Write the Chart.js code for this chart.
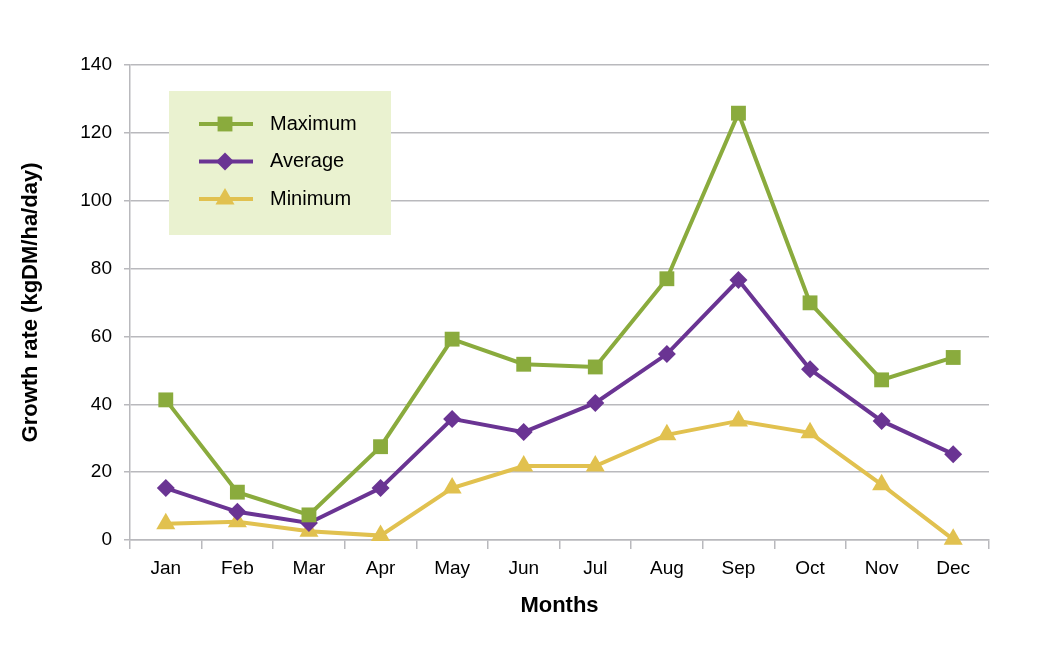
<!DOCTYPE html>
<html>
<head>
<meta charset="utf-8">
<script src="https://cdn.jsdelivr.net/npm/chart.js@4/dist/chart.umd.min.js"></script>
<style>
  body { margin: 0; background: #fff; }
  #wrap { width: 1040px; height: 655px; }
</style>
</head>
<body>
<div id="wrap"><canvas id="growth-chart" width="1040" height="655"></canvas></div>
<script>
// Chart data
const months = ['Jan', 'Feb', 'Mar', 'Apr', 'May', 'Jun', 'Jul', 'Aug', 'Sep', 'Oct', 'Nov', 'Dec'];
const maximumValues = [41.3, 14.1, 7.4, 27.5, 59.2, 51.8, 51.0, 77.0, 125.8, 69.9, 47.2, 53.8];
const averageValues = [15.3, 8.3, 5.0, 15.3, 35.7, 31.8, 40.4, 54.8, 76.6, 50.3, 35.1, 25.3];
const minimumValues = [4.8, 5.4, 2.6, 1.3, 15.3, 21.8, 21.8, 31.0, 35.1, 31.6, 16.3, 0.2];
const yTicks = [0, 20, 40, 60, 80, 100, 120, 140];

const GREEN = '#8aab3d';
const PURPLE = '#6a3493';
const YELLOW = '#e1c14f';
const GRID = '#b9b9bd';
const FONT = '"Liberation Sans", Arial, sans-serif';

// Legend box drawn inside the chart area (top left)
const insideLegend = {
    id: 'insideLegend',
    afterDatasetsDraw(chart) {
        const ctx = chart.ctx;
        const area = chart.chartArea;
        const x0 = area.left + 39;
        const y0 = area.top + 26;
        ctx.save();
        ctx.fillStyle = '#eaf2d0';
        ctx.fillRect(x0, y0, 222, 144);
        chart.data.datasets.forEach((ds, i) => {
            const y = y0 + 33 + i * 37.5;
            ctx.strokeStyle = ds.borderColor;
            ctx.lineWidth = ds.borderWidth;
            ctx.beginPath();
            ctx.moveTo(x0 + 30, y);
            ctx.lineTo(x0 + 84, y);
            ctx.stroke();
            ctx.fillStyle = ds.pointBackgroundColor;
            Chart.helpers.drawPoint(ctx, {
                pointStyle: ds.pointStyle,
                radius: ds.pointRadius,
                rotation: 0,
                borderWidth: 0
            }, x0 + 56, y);
            ctx.fillStyle = '#000';
            ctx.font = '20px ' + FONT;
            ctx.textBaseline = 'middle';
            ctx.textAlign = 'left';
            ctx.fillText(ds.label, x0 + 101, y);
        });
        ctx.restore();
    }
};

function lineSet(label, data, color, style, radius) {
    return {
        label: label,
        data: data,
        borderColor: color,
        backgroundColor: color,
        pointBackgroundColor: color,
        pointBorderColor: color,
        pointBorderWidth: 0,
        pointStyle: style,
        pointRadius: radius,
        borderWidth: 4,
        tension: 0,
        clip: false
    };
}

const growthChart = new Chart(document.getElementById('growth-chart').getContext('2d'), {
    type: 'line',
    data: {
        labels: months,
        datasets: [
            lineSet('Maximum', maximumValues, GREEN, 'rect', 10.5),
            lineSet('Average', averageValues, PURPLE, 'rectRot', 9),
            lineSet('Minimum', minimumValues, YELLOW, 'triangle', 11)
        ]
    },
    options: {
        responsive: false,
        animation: false,
        devicePixelRatio: 1,
        layout: { padding: { top: 65, right: 51, bottom: 36, left: 18 } },
        plugins: {
            legend: { display: false },
            tooltip: { enabled: false }
        },
        scales: {
            x: {
                offset: true,
                grid: {
                    offset: true,
                    drawOnChartArea: false,
                    color: GRID,
                    lineWidth: 1.5,
                    tickLength: 9
                },
                border: { color: GRID, width: 1.5 },
                ticks: {
                    color: '#000',
                    padding: 8,
                    font: { family: FONT, size: 19 }
                },
                title: {
                    display: true,
                    text: 'Months',
                    color: '#000',
                    padding: { top: 14, bottom: 0 },
                    font: { family: FONT, size: 22, weight: 'bold' }
                },
                afterFit(scale) { scale.height = 655 - 540 - 36; }
            },
            y: {
                min: 0,
                max: 140,
                afterBuildTicks(scale) { scale.ticks = yTicks.map(v => ({ value: v })); },
                grid: {
                    color: GRID,
                    lineWidth: 1.5,
                    tickLength: 6
                },
                border: { color: GRID, width: 1.5 },
                ticks: {
                    color: '#000',
                    padding: 12,
                    font: { family: FONT, size: 19 }
                },
                title: {
                    display: true,
                    text: 'Growth rate (kgDM/ha/day)',
                    color: '#000',
                    padding: { top: 0, bottom: 8 },
                    font: { family: FONT, size: 22, weight: 'bold' }
                },
                afterFit(scale) { scale.width = 130 - 18; }
            }
        }
    },
    plugins: [insideLegend]
});
</script>
</body>
</html>
